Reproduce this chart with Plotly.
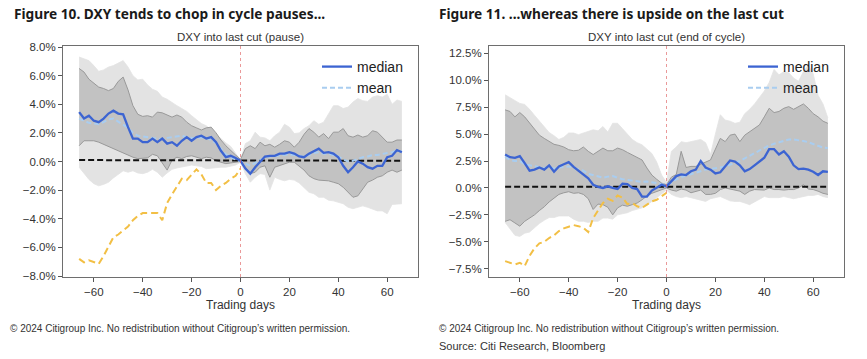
import plotly.graph_objects as go

# ---------------- data ----------------
days = list(range(-66, 67, 2))
pre_days = list(range(-66, 1, 2))
cut_day = 0
ref_x = [-66, 66]

# Figure 10: pause
p_median = [3.45, 3.0, 3.2, 2.85, 2.75, 3.0, 3.35, 3.55, 3.35, 3.3, 2.4, 1.6, 1.6, 1.35, 1.35, 1.6, 1.35,
            1.6, 1.25, 1.35, 1.1, 1.45, 1.7, 1.45, 1.7, 1.8, 1.6, 1.7, 1.35, 0.75, 0.3, 0.4, 0.25, 0.05,
            -0.5, -0.85, -0.4, -0.05, 0.35, 0.4, 0.4, 0.55, 0.55, 0.65, 0.55, 0.35, 0.3, 0.55, 0.75, 0.9,
            0.6, 0.65, 0.55, 0.3, -0.3, -0.75, -0.4, 0.0, -0.15, -0.4, -0.5, -0.3, -0.3, 0.3, 0.4, 0.8, 0.65]
p_mean = [3.0, 2.85, 2.7, 2.65, 2.6, 2.75, 2.95, 3.0, 2.8, 2.6, 2.35, 2.0, 1.8, 1.75, 1.7, 1.6, 1.6,
          1.55, 1.65, 1.7, 1.8, 1.8, 1.7, 1.65, 1.6, 1.7, 1.65, 1.5, 1.3, 0.9, 0.5, 0.3, 0.15, 0.05,
          -0.1, -0.3, -0.1, 0.1, 0.3, 0.35, 0.4, 0.45, 0.45, 0.5, 0.45, 0.4, 0.35, 0.45, 0.6, 0.65,
          0.55, 0.55, 0.45, 0.35, 0.15, 0.0, 0.05, 0.2, 0.3, 0.35, 0.45, 0.45, 0.55, 0.6, 0.65, 0.75, 0.7]
p_q_hi = [6.5, 6.25, 5.75, 5.5, 5.2, 5.1, 4.95, 5.1, 5.6, 5.9, 5.0, 3.9, 3.3, 3.15, 3.2, 3.1, 3.45,
          3.4, 3.25, 3.1, 3.25, 3.1, 2.75, 2.5, 2.35, 2.2, 2.35, 2.4, 2.0, 1.5, 1.1, 0.75, 0.45, 0.15,
          0.9, 1.1, 0.9, 1.35, 1.1, 1.2, 1.0, 1.2, 1.45, 1.35, 1.0, 1.35, 1.9, 2.3, 2.05, 1.7,
          1.95, 1.6, 2.05, 2.05, 2.3, 1.8, 1.7, 1.85, 1.7, 1.8, 2.15, 2.05, 1.7, 1.35, 1.35, 1.5, 1.5]
p_q_lo = [1.1, 1.45, 1.45, 1.45, 1.35, 1.2, 1.0, 0.9, 0.75, 0.55, 0.4, 0.3, 0.2, 0.2, 0.25, 0.5, 0.4,
          -0.1, -0.6, 0.1, 0.3, 0.2, 0.35, 0.4, 0.3, 0.2, 0.3, 0.25, 0.05, -0.05, -0.15, -0.1, -0.05, 0.0,
          -0.4, -0.85, -0.75, -0.4, -0.3, -1.1, -0.4, -0.3, -0.2, -0.05, -0.05, -0.3, -0.6, -1.0, -1.2, -1.3,
          -1.3, -1.35, -1.45, -1.55, -1.8, -2.15, -2.5, -2.4, -1.9, -1.45, -1.3, -1.1, -1.0, -0.75, -0.6, -0.75, -0.6]
p_r_hi = [7.3, 7.15, 7.05, 6.7, 6.3, 6.4, 6.6, 6.7, 6.9, 7.05, 6.6, 6.0, 5.7, 5.75, 5.35, 5.05, 4.9,
          4.5, 4.35, 4.1, 3.9, 3.7, 3.5, 3.2, 2.9, 2.65, 2.5, 2.2, 1.85, 1.6, 1.3, 1.05, 0.6, 0.1,
          1.25, 1.45, 2.05, 1.7, 1.65, 1.45, 1.8, 2.05, 2.6, 2.4, 1.95, 2.0, 2.3, 2.5, 2.85, 2.6,
          2.75, 3.3, 3.9, 3.9, 3.7, 3.8, 4.15, 4.4, 4.25, 4.2, 4.5, 4.6, 4.5, 4.7, 4.0, 4.3, 4.2]
p_r_lo = [-0.4, -0.85, -1.25, -1.55, -1.7, -1.6, -1.45, -1.15, -0.9, -0.65, -0.75, -0.65, -0.8, -0.85, -0.75, -0.55, -0.75,
          -1.1, -0.8, -0.55, -0.45, -0.4, -0.3, -0.25, -0.3, -0.35, -0.5, -0.45, -0.4, -0.4, -0.4, -0.35, -0.25, -0.05,
          -0.85, -1.45, -1.1, -0.85, -0.9, -2.0, -1.1, -1.25, -1.35, -1.25, -1.3, -1.5, -1.8, -2.15, -2.25, -2.5,
          -2.5, -2.7, -2.75, -2.85, -2.95, -3.2, -3.3, -3.2, -3.1, -3.2, -3.3, -3.45, -3.45, -3.65, -3.0, -2.95, -2.95]
p_current = [-6.8, -7.05, -6.9, -7.0, -7.15, -6.6, -5.9, -5.3, -5.1, -4.85, -4.55, -4.1, -3.8, -3.6, -3.6, -3.6, -3.6,
             -4.1, -2.9, -2.3, -1.7, -1.2, -1.3, -0.9, -0.55, -0.9, -1.5, -1.5, -2.0, -1.7, -1.5, -1.2, -1.0, -0.5]
p_ref = [0.1, 0.05]

# Figure 11: end of cycle
e_median = [3.1, 2.85, 2.8, 2.95, 2.3, 1.6, 1.7, 1.9, 1.7, 2.1, 1.5, 2.0, 2.2, 2.4, 1.95, 1.6, 1.3,
            0.9, 0.3, 0.1, 0.0, 0.15, 0.0, -0.1, 0.4, 0.35, 0.0, -0.1, -0.8, -0.8, -0.25, 0.0, 0.3, 0.15,
            0.6, 1.1, 1.25, 1.2, 1.55, 1.7, 2.5, 1.9, 1.7, 1.35, 1.45, 2.0, 2.55, 2.45, 2.1, 1.55,
            1.75, 2.1, 2.45, 2.8, 3.6, 3.6, 3.1, 3.4, 2.9, 2.1, 1.75, 1.8, 1.7, 1.5, 1.2, 1.55, 1.5]
e_mean = [2.9, 2.6, 2.5, 2.5, 2.2, 2.1, 2.0, 1.9, 1.85, 1.9, 1.8, 1.9, 1.95, 2.0, 1.85, 1.75, 1.6,
          1.3, 1.2, 1.1, 0.95, 1.05, 1.1, 0.95, 0.8, 0.75, 0.7, 0.6, 0.55, 0.6, 0.55, 0.45, 0.35, 0.3,
          0.5, 0.8, 1.0, 1.15, 1.3, 1.45, 1.6, 1.7, 1.75, 1.8, 1.9, 2.0, 2.15, 2.3, 2.5, 2.75,
          3.0, 3.25, 3.5, 3.75, 3.95, 4.1, 4.25, 4.4, 4.5, 4.5, 4.45, 4.35, 4.25, 4.1, 3.9, 3.75, 3.7]
e_q_hi = [7.25, 7.1, 6.6, 7.0, 6.6, 6.0, 5.4, 4.9, 4.6, 4.35, 4.05, 3.95, 3.8, 3.55, 3.45, 3.5, 3.8,
          3.4, 3.1, 3.4, 3.7, 3.45, 3.45, 3.7, 3.55, 3.3, 3.05, 2.8, 2.6, 1.85, 1.2, 0.8, 0.45, 0.3,
          1.0, 1.25, 3.4, 1.9, 2.0, 2.0, 2.2, 2.45, 2.6, 3.6, 4.6, 4.3, 4.9, 5.0, 4.3, 4.9,
          5.2, 5.5, 5.85, 6.6, 7.4, 7.0, 7.1, 7.4, 7.55, 7.3, 7.55, 7.8, 7.4, 6.9, 6.6, 6.2, 6.0]
e_q_lo = [-3.1, -2.95, -3.25, -3.55, -3.1, -2.8, -2.5, -2.1, -1.75, -1.3, -0.95, -0.6, -0.45, -0.35, -0.5, -0.45, -0.6,
          -1.0, -2.0, -1.5, -1.55, -1.8, -2.5, -1.85, -1.6, -1.7, -1.55, -1.4, -1.1, -0.75, -0.5, -0.35, -0.15, 0.0,
          -0.2, -0.3, -0.1, -0.2, -0.45, -0.3, -0.2, -0.6, -0.6, -0.5, -0.15, 0.0, -0.1, -0.2, -0.3, -0.6,
          -0.3, -0.15, -0.15, -0.2, 0.0, -0.15, -0.15, -0.2, -0.15, -0.15, 0.0, 0.3, -0.1, -0.15, -0.3, -0.5, -0.6]
e_r_hi = [8.65, 8.4, 8.1, 7.85, 7.75, 7.3, 6.75, 6.2, 5.75, 5.15, 4.85, 4.5, 4.7, 5.1, 5.1, 4.95, 5.1,
          5.25, 5.4, 5.3, 5.7, 5.2, 6.0, 6.0, 5.5, 5.1, 4.5, 4.2, 4.0, 3.6, 3.2, 2.4, 1.2, 0.5,
          3.4, 3.8, 4.3, 4.2, 4.3, 4.4, 4.5, 4.2, 3.1, 5.0, 6.8, 6.3, 6.2, 6.0, 6.1, 6.9,
          7.3, 7.8, 8.4, 9.0, 9.8, 11.0, 10.5, 10.8, 10.7, 10.2, 9.9, 10.8, 11.4, 10.6, 8.6, 7.8, 6.5]
e_r_lo = [-3.2, -3.8, -4.4, -4.5, -4.2, -4.1, -3.7, -3.3, -3.0, -2.75, -2.75, -2.6, -2.6, -2.6, -2.9, -3.1, -3.1,
          -3.2, -3.1, -3.1, -2.8, -2.8, -2.9, -2.5, -2.4, -2.3, -2.1, -2.0, -1.85, -1.6, -1.25, -0.95, -0.6, -0.2,
          -0.6, -0.8, -0.9, -0.8, -0.9, -1.0, -1.1, -1.25, -1.0, -0.9, -0.8, -1.0, -1.2, -1.25, -1.25, -1.4,
          -1.55, -1.3, -1.05, -0.8, -0.9, -0.9, -0.9, -0.8, -0.9, -1.0, -0.9, -0.8, -0.7, -0.7, -0.6, -0.8, -0.9]
e_current = [-6.8, -6.95, -7.1, -6.95, -7.25, -6.3, -5.6, -5.15, -5.0, -4.65, -4.4, -4.0, -3.75, -3.6, -3.45, -3.55, -3.7,
             -4.1, -2.8, -2.1, -1.4, -1.0, -1.2, -0.7, -0.9, -1.5, -1.4, -1.7, -1.85, -1.55, -1.25, -1.1, -0.8, -0.45]
e_ref = [0.1, 0.1]

headings = ["Figure 10. DXY tends to chop in cycle pauses...",
            "Figure 11. ...whereas there is upside on the last cut"]
subtitles = ["DXY into last cut (pause)", "DXY into last cut (end of cycle)"]
left_ticks = [-8, -6, -4, -2, 0, 2, 4, 6, 8]
right_ticks = [-7.5, -5, -2.5, 0, 2.5, 5, 7.5, 10, 12.5]
x_ticks = [-60, -40, -20, 0, 20, 40, 60]
copyright_text = "© 2024 Citigroup Inc. No redistribution without Citigroup’s written permission."
source_text = "Source: Citi Research, Bloomberg"


def pct_labels(vals):
    return [("\u2212" if v < 0 else "") + f"{abs(v):.1f}%" for v in vals]


# ---------------- layout helpers (page pixels -> paper) ----------------
W, H = 867, 359


def fx(px):
    return px / W


def fy(py):
    return 1 - py / H


FONT = "Liberation Sans, Arial, sans-serif"
LIGHT = "#e3e3e3"
DARK = "#c2c2c2"
DARK_EDGE = "#999999"
BLUE = "#3c64d2"
LBLUE = "#a9cdf0"
YELLOW = "#f2bf45"

fig = go.Figure()


def add_panel(xa, ya, leg, median, mean, q_hi, q_lo, r_hi, r_lo, cur, ref):
    fig.add_trace(go.Scatter(x=days, y=r_hi, xaxis=xa, yaxis=ya, mode="lines",
                             line=dict(color=LIGHT, width=0.8), showlegend=False, hoverinfo="skip"))
    fig.add_trace(go.Scatter(x=days, y=r_lo, xaxis=xa, yaxis=ya, mode="lines", fill="tonexty",
                             fillcolor=LIGHT, line=dict(color=LIGHT, width=0.8), showlegend=False,
                             hoverinfo="skip"))
    fig.add_trace(go.Scatter(x=days, y=q_hi, xaxis=xa, yaxis=ya, mode="lines",
                             line=dict(color=DARK_EDGE, width=1), showlegend=False, hoverinfo="skip"))
    fig.add_trace(go.Scatter(x=days, y=q_lo, xaxis=xa, yaxis=ya, mode="lines", fill="tonexty",
                             fillcolor=DARK, line=dict(color=DARK_EDGE, width=1), showlegend=False,
                             hoverinfo="skip"))
    fig.add_trace(go.Scatter(x=ref_x, y=ref, xaxis=xa, yaxis=ya, mode="lines",
                             line=dict(color="#111111", width=2, dash="6px,3px"), showlegend=False))
    fig.add_trace(go.Scatter(x=pre_days, y=cur, xaxis=xa, yaxis=ya, mode="lines",
                             line=dict(color=YELLOW, width=2, dash="7px,4px"), showlegend=False))
    fig.add_trace(go.Scatter(x=days, y=mean, xaxis=xa, yaxis=ya, mode="lines", name="mean",
                             line=dict(color=LBLUE, width=2, dash="5px,3px"), legend=leg,
                             legendrank=2))
    fig.add_trace(go.Scatter(x=days, y=median, xaxis=xa, yaxis=ya, mode="lines", name="median",
                             line=dict(color=BLUE, width=2.3), legend=leg, legendrank=1))
    fig.add_shape(type="line", x0=cut_day, x1=cut_day, y0=0, y1=1, xref=xa,
                  yref=ya + " domain", line=dict(color="rgba(225,110,110,0.7)", width=1, dash="dot"))


add_panel("x", "y", "legend", p_median, p_mean, p_q_hi, p_q_lo, p_r_hi, p_r_lo, p_current, p_ref)
add_panel("x2", "y2", "legend2", e_median, e_mean, e_q_hi, e_q_lo, e_r_hi, e_r_lo, e_current, e_ref)

ydom = [fy(277), fy(46)]
axis_common = dict(showline=True, linecolor="#6e6e6e", linewidth=1, mirror=True, ticks="outside",
                   ticklen=4, tickcolor="#555555", showgrid=False, zeroline=False, automargin=False,
                   tickfont=dict(family=FONT, size=11.5, color="#333333"))
xtitle = dict(text="Trading days", font=dict(family=FONT, size=12, color="#333"), standoff=2)
leg_font = dict(family=FONT, size=14, color="#222222")

fig.update_layout(
    width=W, height=H, margin=dict(l=0, r=0, t=0, b=0, autoexpand=False),
    paper_bgcolor="white", plot_bgcolor="white",
    xaxis=dict(domain=[fx(63), fx(418)], range=[-72.6, 72.6], tickvals=x_ticks, anchor="y",
               title=xtitle, **axis_common),
    yaxis=dict(domain=ydom, range=[-8.07, 8.07], tickvals=left_ticks, ticktext=pct_labels(left_ticks),
               anchor="x", **axis_common),
    xaxis2=dict(domain=[fx(489), fx(844)], range=[-72.6, 72.6], tickvals=x_ticks, anchor="y2",
                title=xtitle, **axis_common),
    yaxis2=dict(domain=ydom, range=[-8.27, 13.18], tickvals=right_ticks, ticktext=pct_labels(right_ticks),
                anchor="x2", **axis_common),
    legend=dict(x=fx(317), y=fy(51), xanchor="left", yanchor="top", bgcolor="rgba(0,0,0,0)",
                font=leg_font, tracegroupgap=0, traceorder="normal"),
    legend2=dict(x=fx(743), y=fy(51), xanchor="left", yanchor="top", bgcolor="rgba(0,0,0,0)",
                 font=leg_font, tracegroupgap=0, traceorder="normal"),
)

ann = []
for i, (hx, sx) in enumerate([(12, 240.5), (437, 666.5)]):
    ann.append(dict(text="<b>" + headings[i] + "</b>", x=fx(hx), y=fy(13), xref="paper", yref="paper",
                    xanchor="left", yanchor="middle", showarrow=False,
                    font=dict(family="Noto Sans, sans-serif", size=13.7, color="#1a1a1a")))
    ann.append(dict(text=subtitles[i], x=fx(sx), y=fy(37), xref="paper", yref="paper",
                    xanchor="center", yanchor="middle", showarrow=False,
                    font=dict(family=FONT, size=11.5, color="#333333")))
for cx in (8, 437):
    ann.append(dict(text=copyright_text, x=fx(cx), y=fy(328), xref="paper", yref="paper",
                    xanchor="left", yanchor="middle", showarrow=False,
                    font=dict(family=FONT, size=10, color="#333")))
ann.append(dict(text=source_text, x=fx(437), y=fy(346), xref="paper", yref="paper",
                xanchor="left", yanchor="middle", showarrow=False,
                font=dict(family=FONT, size=11, color="#333")))
fig.update_layout(annotations=ann)

fig.write_html("out.html", config={"displayModeBar": False},
               post_script="document.body.style.margin='0';")
